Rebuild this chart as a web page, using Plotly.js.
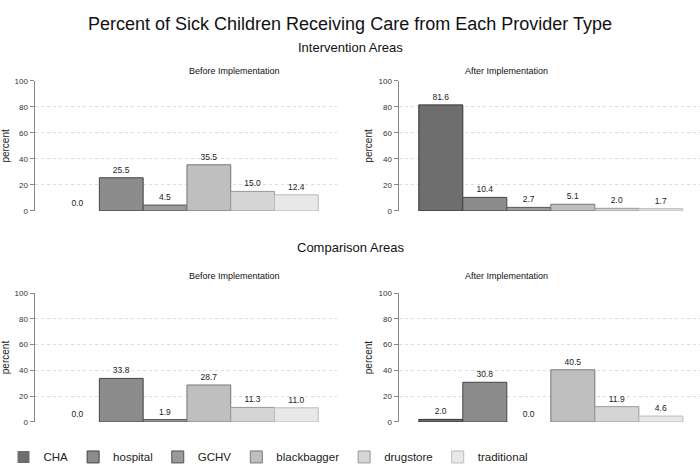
<!DOCTYPE html>
<html>
<head>
<meta charset="utf-8">
<script src="https://cdn.plot.ly/plotly-3.0.1.min.js"></script>
<style>html,body{margin:0;padding:0;background:#fff;}#chart{width:700px;height:475px;}</style>
</head>
<body>
<div id="chart"></div>
<script>
const providers = ['CHA', 'hospital', 'GCHV', 'blackbagger', 'drugstore', 'traditional'];
const intBefore = [0.0, 25.5, 4.5, 35.5, 15.0, 12.4];
const intAfter = [81.6, 10.4, 2.7, 5.1, 2.0, 1.7];
const compBefore = [0.0, 33.8, 1.9, 28.7, 11.3, 11.0];
const compAfter = [2.0, 30.8, 0.0, 40.5, 11.9, 4.6];
const yTicks = [0, 20, 40, 60, 80, 100];

const fills = ['#6e6e6e', '#8c8c8c', '#9a9a9a', '#bfbfbf', '#d5d5d5', '#e8e8e8'];
const edges = ['#333333', '#444444', '#555555', '#777777', '#999999', '#bbbbbb'];
const FONT = 'Liberation Sans, Arial, Helvetica, sans-serif';

const panels = [
  {vals: intBefore, xa: 'x', ya: 'y'},
  {vals: intAfter, xa: 'x2', ya: 'y2'},
  {vals: compBefore, xa: 'x3', ya: 'y3'},
  {vals: compAfter, xa: 'x4', ya: 'y4'}
];

const traces = [];
panels.forEach((p, pi) => {
  providers.forEach((name, i) => {
    const v = p.vals[i];
    traces.push({
      type: 'bar',
      x: [name],
      y: [v],
      name: name,
      legendgroup: name,
      showlegend: pi === 0,
      xaxis: p.xa,
      yaxis: p.ya,
      marker: {color: fills[i], line: {color: edges[i], width: v === 0 ? 0 : 1}},
      texttemplate: '%{y:.1f}',
      textposition: 'outside',
      textfont: {size: 8.5, color: '#222', family: FONT},
      cliponaxis: false,
      hoverinfo: 'x+y'
    });
  });
});

function xax(domain, range) {
  return {
    domain: domain, range: range, type: 'category',
    categoryorder: 'array', categoryarray: providers,
    showticklabels: false, ticks: '', showgrid: false, zeroline: false, showline: false
  };
}
function yax(domain, anchor) {
  return {
    domain: domain, anchor: anchor, range: [0, 100], autorange: false,
    tickvals: yTicks, ticks: 'outside', ticklen: 4, tickcolor: '#888', tickwidth: 1,
    showline: true, linecolor: '#888', linewidth: 1.5,
    showgrid: true, gridcolor: '#dcdcdc', griddash: 'dot', gridwidth: 1,
    zeroline: false,
    tickfont: {size: 8, color: '#333', family: FONT},
    title: {text: 'percent', font: {size: 10, color: '#222', family: FONT}, standoff: 4}
  };
}

const layout = {
  width: 700, height: 475,
  margin: {l: 0, r: 0, t: 0, b: 0},
  paper_bgcolor: '#fff', plot_bgcolor: '#fff',
  font: {family: FONT, color: '#222'},
  barmode: 'overlay', bargap: 0,
  showlegend: true,
  legend: {orientation: 'h', x: 0.005, y: 0.038, xanchor: 'left', yanchor: 'middle',
    font: {size: 11.5, color: '#222', family: FONT}, itemwidth: 30, traceorder: 'normal'},
  xaxis: xax([0.05, 0.481], [-0.97, 5.92]),
  yaxis: yax([0.556, 0.8295], 'x'),
  xaxis2: xax([0.57, 1.0], [-0.95, 5.89]),
  yaxis2: yax([0.556, 0.8295], 'x2'),
  xaxis3: xax([0.05, 0.481], [-0.97, 5.92]),
  yaxis3: yax([0.1116, 0.383], 'x3'),
  xaxis4: xax([0.57, 1.0], [-0.95, 5.89]),
  yaxis4: yax([0.1116, 0.383], 'x4'),
  annotations: [
    {text: 'Percent of Sick Children Receiving Care from Each Provider Type', x: 0.5, y: 1 - 12/475,
     xref: 'paper', yref: 'paper', showarrow: false, font: {size: 18, color: '#111', family: FONT}},
    {text: 'Intervention Areas', x: 0.5, y: 1 - 38/475, xref: 'paper', yref: 'paper', showarrow: false,
     font: {size: 13, color: '#111', family: FONT}},
    {text: 'Comparison Areas', x: 0.5, y: 1 - 247/475, xref: 'paper', yref: 'paper', showarrow: false,
     font: {size: 13, color: '#111', family: FONT}},
    {text: 'Before Implementation', x: 187/700, y: 1 - 64/475, xref: 'paper', yref: 'paper', showarrow: false,
     font: {size: 9, color: '#111', family: FONT}},
    {text: 'After Implementation', x: 550/700, y: 1 - 64/475, xref: 'paper', yref: 'paper', showarrow: false,
     font: {size: 9, color: '#111', family: FONT}},
    {text: 'Before Implementation', x: 187/700, y: 1 - 276/475, xref: 'paper', yref: 'paper', showarrow: false,
     font: {size: 9, color: '#111', family: FONT}},
    {text: 'After Implementation', x: 550/700, y: 1 - 276/475, xref: 'paper', yref: 'paper', showarrow: false,
     font: {size: 9, color: '#111', family: FONT}}
  ]
};

Plotly.newPlot('chart', traces, layout, {displayModeBar: false, staticPlot: true});
</script>
</body>
</html>
